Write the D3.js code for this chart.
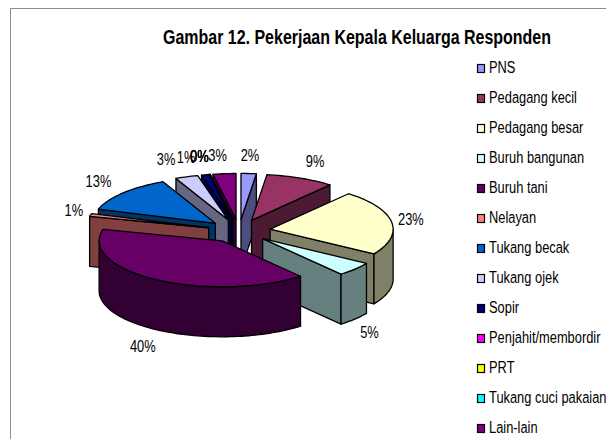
<!DOCTYPE html>
<html>
<head>
<meta charset="utf-8">
<script src="https://cdn.jsdelivr.net/npm/d3@7"></script>
<style>
  html, body { margin: 0; padding: 0; background: #fff; }
  svg { display: block; }
  text { font-family: "Liberation Sans", Arial, sans-serif; fill: #000; }
</style>
</head>
<body>
<svg width="606" height="439"></svg>
<script>
var categories = ["PNS", "Pedagang kecil", "Pedagang besar", "Buruh bangunan", "Buruh tani", "Nelayan", "Tukang becak", "Tukang ojek", "Sopir", "Penjahit/membordir", "PRT", "Tukang cuci pakaian", "Lain-lain"];
var values = [2, 9, 23, 5, 40, 1, 13, 3, 1, 0, 0, 0, 3];
var topColors = ["#9999FF", "#993366", "#FFFFCC", "#CCFFFF", "#660066", "#FF8080", "#0066CC", "#CCCCFF", "#000080", "#FF00FF", "#FFFF00", "#00FFFF", "#800080"];
// hand nudges, the original chart moved some labels apart
var labelNudge = [0, 7, 0, 0, -3, 2, -10, -14, -15, -7, -7, -7, -5];

var svg = d3.select("svg"),
    width = +svg.attr("width"),
    height = +svg.attr("height");

var cx = 239, cy = 231,
    rx = 123, ry = 46,
    depth = 50,
    explode = 31.5,
    squash = 46 / 125,
    narrow = 0.78; // no narrow font installed, squeeze Liberation Sans instead

// frame of the pasted chart
svg.append("path")
  .attr("d", "M10.5," + height + "V8.5H" + width)
  .attr("fill", "none")
  .attr("stroke", "#8c8c8c");

svg.append("text")
  .attr("x", 357)
  .attr("y", 44)
  .attr("text-anchor", "middle")
  .attr("font-size", 19.5)
  .attr("font-weight", "bold")
  .attr("textLength", 388)
  .attr("lengthAdjust", "spacingAndGlyphs")
  .text("Gambar 12. Pekerjaan Kepala Keluarga Responden");

var slices = d3.pie().sort(null).value(d => d)(values).map((d, i) => {
  var mid = (d.startAngle + d.endAngle) / 2;
  return {
    i: i,
    a0: d.startAngle,
    a1: d.endAngle,
    mid: mid,
    ox: cx + Math.sin(mid) * explode,
    oy: cy - Math.cos(mid) * explode * squash
  };
});

function px(s, a) { return s.ox + Math.sin(a) * rx; }
function py(s, a) { return s.oy - Math.cos(a) * ry; }

function arcPoints(s, a0, a1, dy) {
  var n = Math.max(1, Math.ceil((a1 - a0) / 0.03));
  return d3.range(n + 1).map(k => {
    var a = a0 + (a1 - a0) * k / n;
    return [px(s, a), py(s, a) + dy];
  });
}

var line = d3.line();

function darker(c) {
  var rgb = d3.rgb(c);
  return d3.rgb(rgb.r / 2, rgb.g / 2, rgb.b / 2).formatHex();
}

// back slices first
var ordered = slices.slice().sort((a, b) => d3.descending(Math.cos(a.mid), Math.cos(b.mid)));

var pie = svg.append("g")
  .attr("stroke", "#000")
  .attr("stroke-width", 1.3)
  .attr("stroke-linejoin", "round");

ordered.forEach(s => {
  var g = pie.append("g");
  var side = darker(topColors[s.i]);

  function radialWall(a) {
    g.append("path")
      .attr("d", line([[s.ox, s.oy], [px(s, a), py(s, a)], [px(s, a), py(s, a) + depth], [s.ox, s.oy + depth]]) + "Z")
      .attr("fill", side);
  }

  if (Math.sin(s.a0) < 0) radialWall(s.a0);
  if (Math.sin(s.a1) > 0) radialWall(s.a1);

  // curved outer wall, only the part facing us
  var w0 = Math.max(s.a0, Math.PI / 2), w1 = Math.min(s.a1, Math.PI * 1.5);
  if (w1 > w0) {
    var wall = arcPoints(s, w0, w1, 0).concat(arcPoints(s, w0, w1, depth).reverse());
    g.append("path").attr("d", line(wall) + "Z").attr("fill", side);
  }

  g.append("path")
    .attr("d", line([[s.ox, s.oy]].concat(arcPoints(s, s.a0, s.a1, 0))) + "Z")
    .attr("fill", topColors[s.i]);
});

// percent labels
svg.append("g").selectAll("text")
  .data(slices)
  .enter()
  .append("text")
  .attr("transform", d => {
    var x = cx + Math.sin(d.mid) * 174 + labelNudge[d.i];
    var y = cy - Math.cos(d.mid) * 76 + (Math.cos(d.mid) < 0 ? depth + 1 : 0) + 6;
    return "translate(" + x + "," + y + ") scale(" + narrow + ",1)";
  })
  .attr("text-anchor", "middle")
  .attr("font-size", 16.5)
  .text(d => values[d.i] + "%");

// legend
var legendY = d3.scalePoint().domain(categories).range([68, 428]);

var legend = svg.append("g").selectAll("g")
  .data(categories)
  .enter()
  .append("g")
  .attr("transform", d => "translate(0," + legendY(d) + ")");

legend.append("rect")
  .attr("x", 477.5)
  .attr("y", -3.5)
  .attr("width", 7)
  .attr("height", 8)
  .attr("fill", (d, i) => topColors[i])
  .attr("stroke", "#000")
  .attr("stroke-width", 1.2);

legend.append("text")
  .attr("transform", "translate(489,5) scale(" + narrow + ",1)")
  .attr("font-size", 16.5)
  .text(d => d);
</script>
</body>
</html>
